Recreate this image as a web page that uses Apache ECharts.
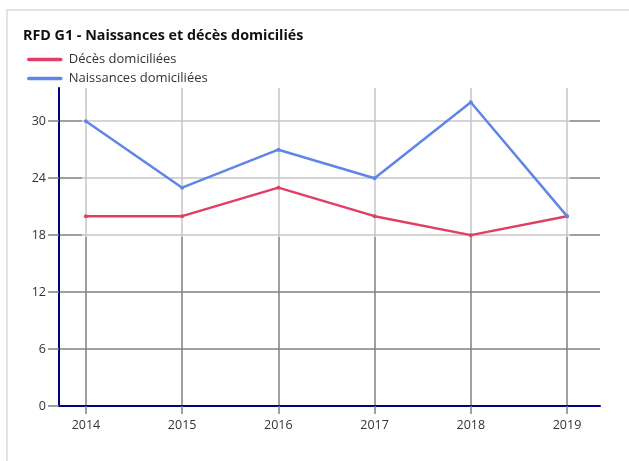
<!DOCTYPE html>
<html>
<head>
<meta charset="utf-8">
<script src="https://cdn.jsdelivr.net/npm/echarts@6/dist/echarts.min.js"></script>
<style>html,body{margin:0;padding:0;background:#fff;}#c{width:629px;height:461px;}</style>
</head>
<body>
<div id="c"></div>
<script>
const years = [2014, 2015, 2016, 2017, 2018, 2019];
const deces = [20, 20, 23, 20, 18, 20];
const naissances = [30, 23, 27, 24, 32, 20];
const yTicks = [0, 6, 12, 18, 24, 30];

const chart = echarts.init(document.getElementById('c'), null, {renderer: 'canvas'});
const font = '"Open Sans", "Noto Sans", sans-serif';
const pairs = (vals) => years.map((y, i) => [y, vals[i]]);

chart.setOption({
  animation: false,
  backgroundColor: '#fff',
  graphic: [{
    type: 'rect', silent: true, z: -10,
    shape: {x: 7, y: 10, width: 640, height: 470},
    style: {fill: 'none', stroke: '#e3e3e3', lineWidth: 2}
  }],
  title: {
    text: 'RFD G1 - Naissances et décès domiciliés',
    left: 18, top: 24,
    textStyle: {fontFamily: font, fontSize: 14.3, fontWeight: 'bold', color: '#111'}
  },
  legend: {
    orient: 'vertical', left: 22, top: 48, itemGap: 6,
    itemWidth: 32, itemHeight: 4,
    lineStyle: {width: 3.5, cap: 'round'},
    textStyle: {fontFamily: font, fontSize: 13, color: '#333', padding: [0, 0, 0, 3]},
    data: ['Décès domiciliées', 'Naissances domiciliées']
  },
  grid: {left: 59, right: 29, top: 88, bottom: 55, containLabel: false},
  xAxis: {
    type: 'value', min: 2013.72, max: 2019.343,
    axisLine: {show: true, onZero: false, lineStyle: {color: '#000080', width: 2}},
    axisTick: {show: true, length: 8, customValues: years, lineStyle: {color: '#808080', width: 1.5}},
    axisLabel: {customValues: years, margin: 13, fontFamily: font, fontSize: 12.5, color: '#333', formatter: v => String(v)},
    splitLine: {show: true, lineStyle: {color: '#808080', width: 1.5}}
  },
  yAxis: {
    type: 'value', min: 0, max: 33.5,
    axisLine: {show: true, lineStyle: {color: '#000080', width: 2}},
    axisTick: {show: true, length: 11, customValues: yTicks, lineStyle: {color: '#808080', width: 1.5}},
    axisLabel: {customValues: yTicks, margin: 13, fontFamily: font, fontSize: 12.5, color: '#333'},
    splitLine: {show: true, lineStyle: {color: '#808080', width: 1.5}}
  },
  series: [
    {
      name: 'Décès domiciliées', type: 'line', data: pairs(deces),
      symbol: 'circle', symbolSize: 4, showSymbol: true,
      itemStyle: {color: '#e03e64'}, lineStyle: {color: '#e03e64', width: 2.5},
      markArea: {
        silent: true,
        itemStyle: {color: 'rgba(255,255,255,0.55)'},
        data: [[{xAxis: 2013.96, yAxis: 17.8}, {xAxis: 2019.03, yAxis: 33.5}]]
      }
    },
    {
      name: 'Naissances domiciliées', type: 'line', data: pairs(naissances),
      symbol: 'circle', symbolSize: 4, showSymbol: true,
      itemStyle: {color: '#5f86e6'}, lineStyle: {color: '#5f86e6', width: 2.5}
    }
  ]
});
</script>
</body>
</html>
